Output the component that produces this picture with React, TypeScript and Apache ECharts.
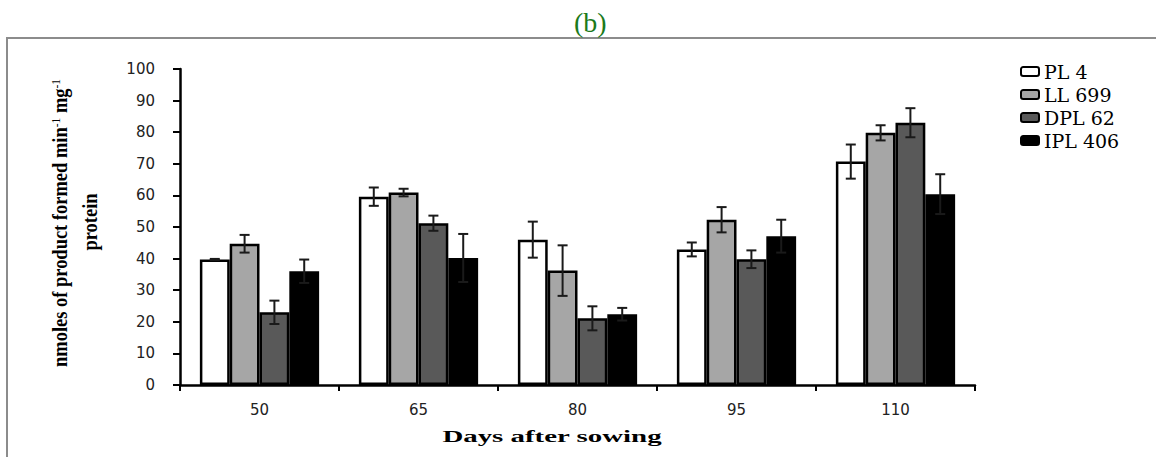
import React, { useEffect, useRef } from "react";
import * as echarts from "echarts";

const categories = ["50", "65", "80", "95", "110"];
const seriesNames = ["PL 4", "LL 699", "DPL 62", "IPL 406"];
const pl4 = [39.7, 59.6, 46.0, 42.9, 70.7];
const pl4Err = [0.2, 2.9, 5.7, 2.2, 5.4];
const ll699 = [44.7, 60.9, 36.2, 52.3, 79.8];
const ll699Err = [2.8, 1.2, 8.0, 4.0, 2.4];
const dpl62 = [23.0, 51.2, 21.1, 39.8, 83.0];
const dpl62Err = [3.7, 2.4, 3.8, 2.8, 4.6];
const ipl406 = [36.0, 40.2, 22.4, 47.1, 60.4];
const ipl406Err = [3.7, 7.6, 2.0, 5.2, 6.3];
const yTicks = { min: 0, max: 100, interval: 10 };

const values = [pl4, ll699, dpl62, ipl406];
const errors = [pl4Err, ll699Err, dpl62Err, ipl406Err];
const colors = ["#ffffff", "#a6a6a6", "#595959", "#000000"];
const CAT_GAP = 0.25;

export default function App() {
  const ref = useRef<HTMLDivElement>(null);
  useEffect(() => {
    if (!ref.current) return;
    const chart = echarts.init(ref.current, null, { renderer: "svg" });

    const barSeries = seriesNames.map((name, i) => ({
      name,
      type: "bar",
      data: values[i],
      barGap: "0%",
      barCategoryGap: "25%",
      itemStyle: { color: colors[i], borderColor: "#000", borderWidth: 2.5 },
      z: 2,
    }));

    const errSeries = seriesNames.map((name, i) => ({
      name: name + " error",
      type: "custom",
      z: 5,
      data: values[i].map((v, k) => [k, v, errors[i][k]]),
      encode: { x: 0, y: 1 },
      renderItem: (params: any, api: any) => {
        const cat = api.value(0);
        const v = api.value(1);
        const e = api.value(2);
        const center = api.coord([cat, 0])[0];
        const band = api.size([1, 0])[0];
        const barW = (band * (1 - CAT_GAP)) / 4;
        const x = center + (i - 1.5) * barW;
        const yTop = api.coord([cat, v + e])[1];
        const yBot = api.coord([cat, v - e])[1];
        const cap = 5;
        const st = { stroke: "#1a1a1a", lineWidth: 2 };
        return {
          type: "group",
          children: [
            { type: "line", shape: { x1: x, y1: yTop, x2: x, y2: yBot }, style: st },
            { type: "line", shape: { x1: x - cap, y1: yTop, x2: x + cap, y2: yTop }, style: st },
            { type: "line", shape: { x1: x - cap, y1: yBot, x2: x + cap, y2: yBot }, style: st },
          ],
        };
      },
    }));

    chart.setOption({
      animation: false,
      backgroundColor: "#ffffff",
      title: {
        text: "(b)",
        left: 569,
        top: 3,
        textStyle: { fontFamily: "Liberation Serif", fontSize: 28, fontWeight: "normal", color: "#1b7a1b" },
      },
      legend: {
        data: seriesNames,
        orient: "vertical",
        left: 1020,
        top: 62,
        padding: 0,
        itemWidth: 18,
        itemHeight: 9,
        itemGap: 4,
        icon: "roundRect",
        textStyle: { fontFamily: "DejaVu Serif", fontSize: 19, color: "#000", lineHeight: 18 },
      },
      grid: { left: 180, right: 181, top: 69, bottom: 72, containLabel: false },
      xAxis: {
        type: "category",
        data: categories,
        axisLine: { lineStyle: { color: "#000", width: 2.5 } },
        axisTick: { show: true, length: 6, lineStyle: { color: "#000", width: 2 } },
        axisLabel: { margin: 17, fontFamily: "DejaVu Sans", fontSize: 15, color: "#222" },
      },
      yAxis: {
        type: "value",
        min: yTicks.min,
        max: yTicks.max,
        interval: yTicks.interval,
        splitLine: { show: false },
        axisLine: { show: true, lineStyle: { color: "#000", width: 2.5 } },
        axisTick: { show: true, length: 7, lineStyle: { color: "#000", width: 2 } },
        axisLabel: { margin: 25, fontFamily: "DejaVu Sans", fontSize: 15, color: "#222" },
      },
      graphic: [
        {
          type: "rect",
          shape: { x: 7, y: 38, width: 1200, height: 500 },
          style: { fill: "none", stroke: "#8c8c8c", lineWidth: 2 },
          silent: true,
          z: -1,
        },
        {
          type: "text",
          x: 60,
          y: 223,
          rotation: Math.PI / 2,
          scaleX: 0.88,
          style: {
            text: "nmoles of product formed min{sup|-1} mg{sup|-1}",
            fontFamily: "Liberation Serif",
            fontWeight: "bold",
            fontSize: 21,
            fill: "#000",
            textAlign: "center",
            textVerticalAlign: "middle",
            rich: {
              sup: { fontFamily: "Liberation Serif", fontSize: 13, fontWeight: "normal", verticalAlign: "top", lineHeight: 22 },
            },
          },
        },
        {
          type: "text",
          x: 90,
          y: 222,
          rotation: Math.PI / 2,
          scaleX: 0.88,
          style: {
            text: "protein",
            fontFamily: "Liberation Serif",
            fontWeight: "bold",
            fontSize: 21,
            fill: "#000",
            textAlign: "center",
            textVerticalAlign: "middle",
          },
        },
        {
          type: "text",
          x: 552,
          y: 436,
          scaleX: 1.7,
          style: {
            text: "Days after sowing",
            fontFamily: "Liberation Serif",
            fontWeight: "bold",
            fontSize: 17,
            fill: "#000",
            textAlign: "center",
            textVerticalAlign: "middle",
          },
        },
      ],
      series: [...barSeries, ...errSeries],
    });

    return () => chart.dispose();
  }, []);

  return (
    <div
      ref={ref}
      style={{ position: "fixed", left: 0, top: 0, width: 1156, height: 457, background: "#fff" }}
    />
  );
}
